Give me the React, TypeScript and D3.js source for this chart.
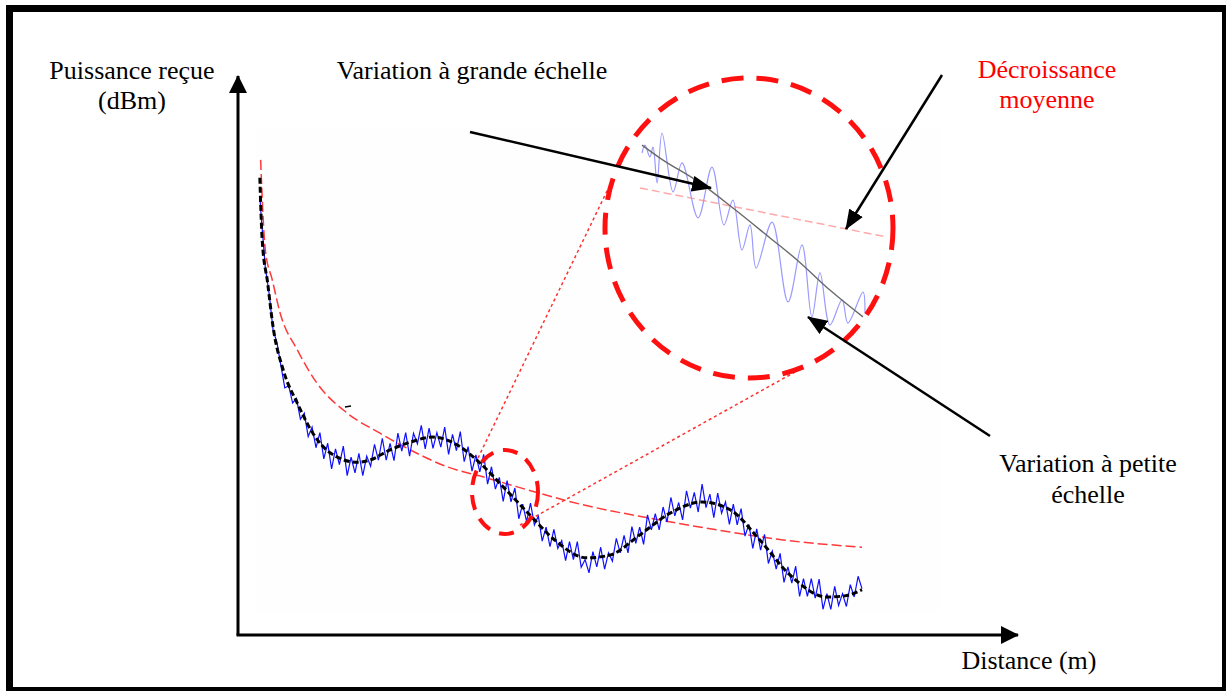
import React from 'react';
import * as d3 from 'd3';

const W = 1226;
const H = 691;

// Large-scale variation (black dashed) — distance units / power units
const blackX = [2.8, 3.1, 3.8, 4.5, 5.8, 7.6, 9.6, 11.8, 15.3, 16.9, 19.5, 22.1, 25.0, 28.1, 31.0, 34.0, 37.4, 40.6, 44.7, 47.7, 51.5, 55.4, 59.5, 63.1, 66.9, 70.8, 75.5, 77.8, 80.0];
const blackY = [81.8, 70.7, 63.0, 55.1, 47.4, 41.5, 36.1, 32.6, 30.9, 31.3, 33.1, 34.5, 35.4, 34.0, 30.8, 26.5, 21.5, 17.0, 13.8, 14.3, 17.9, 21.8, 23.8, 22.4, 17.0, 10.7, 6.8, 7.0, 8.1];

// Mean decay (red dashed)
const redX = [2.9, 3.5, 4.4, 5.4, 7.6, 10.1, 14.0, 18.2, 22.1, 26.8, 31.4, 35.8, 44.2, 52.8, 61.4, 69.9, 80.0];
const redY = [85.0, 68.9, 63.5, 57.6, 51.0, 45.1, 39.7, 36.1, 33.1, 30.1, 28.3, 26.5, 23.3, 20.9, 18.8, 17.0, 15.7];

// Received power with small-scale variation (blue)
const blueHead = [2.8, 78.5];
const blueX0 = 3.0;
const blueStep = 0.5;
const blueY = [
  74.4, 65.8, 61.0, 54.5, 52.3, 48.2, 44.2, 44.6, 41.5, 42.3,
  38.6, 39.7, 35.5, 37.2, 33.5, 36.2, 31.5, 34.3, 29.7, 33.3,
  30.5, 33.8, 28.5, 31.8, 29.0, 32.5, 28.5, 32.0, 30.2, 34.1,
  31.3, 35.2, 31.3, 34.3, 31.2, 36.1, 32.9, 36.2, 32.0, 36.1,
  34.2, 37.5, 33.3, 37.0, 33.4, 36.2, 33.6, 37.2, 32.3, 35.9,
  33.0, 36.4, 31.0, 33.7, 29.3, 32.2, 29.2, 32.3, 27.0, 30.1,
  26.1, 28.2, 23.9, 27.6, 23.8, 26.3, 20.8, 23.4, 20.3, 23.6,
  19.7, 21.3, 16.8, 19.3, 15.8, 18.9, 15.5, 16.9, 13.3, 16.7,
  13.5, 16.7, 12.1, 13.5, 11.1, 14.9, 12.2, 15.7, 11.8, 14.7,
  13.2, 17.3, 14.7, 17.8, 14.7, 19.4, 16.4, 19.3, 16.2, 21.5,
  18.8, 21.7, 18.8, 22.9, 20.2, 24.6, 21.3, 23.7, 20.6, 25.8,
  22.7, 25.5, 22.0, 27.0, 22.8, 25.2, 21.0, 25.4, 21.8, 23.8,
  19.8, 23.4, 19.7, 22.6, 17.7, 19.8, 15.5, 19.0, 15.2, 18.0,
  12.8, 15.0, 11.8, 14.6, 9.4, 12.2, 9.3, 12.3, 6.9, 10.1,
  6.9, 10.1, 6.6, 10.0, 4.6, 7.4, 4.6, 8.7, 5.3, 7.4,
  5.1, 9.0, 6.8, 10.5, 8.3,
];

// Zoomed inset (own local units 0..100)
const insetBlueX = [0.9, 2.2, 4.4, 5.8, 7.6, 9.8, 14.7, 18.7, 25.8, 32.0, 37.3, 41.3, 45.3, 48.9, 51.6, 58.7, 65.8, 72.0, 76.4, 80.0, 84.4, 89.8, 92.4, 99.1, 100];
const insetBlueY = [85.0, 88.6, 83.2, 87.7, 71.4, 94.1, 67.3, 80.5, 55.5, 78.6, 52.3, 63.6, 40.9, 52.3, 32.7, 53.6, 17.3, 43.2, 10.5, 30.5, 6.8, 18.2, 7.7, 21.8, 12.3];
const insetGreyX = [0.9, 8.9, 26.7, 41.3, 57.8, 69.8, 84.4, 99.1];
const insetGreyY = [88.6, 82.7, 71.4, 60.0, 46.4, 36.4, 22.7, 10.5];
const insetPinkX = [0, 109.8];
const insetPinkY = [69.1, 46.8];

const FONT = '"Liberation Serif", Tinos, "Noto Serif", "DejaVu Serif", FreeSerif, Times, serif';

export default function App() {
  const x = d3.scaleLinear().domain([0, 100]).range([238, 1018]);
  const y = d3.scaleLinear().domain([0, 100]).range([635, 76]);
  const ix = d3.scaleLinear().domain([0, 100]).range([640, 865]);
  const iy = d3.scaleLinear().domain([0, 100]).range([340, 120]);

  const lineMain = d3.line<[number, number]>().x(d => x(d[0])).y(d => y(d[1]));
  const lineInset = d3.line<[number, number]>().x(d => ix(d[0])).y(d => iy(d[1]));

  const blackPts = blackX.map((v, i) => [v, blackY[i]] as [number, number]);
  const redPts = redX.map((v, i) => [v, redY[i]] as [number, number]);
  const bluePts: [number, number][] = [[blueHead[0], blueHead[1]], ...blueY.map((v, i) => [blueX0 + i * blueStep, v] as [number, number])];

  const blackPath = lineMain.curve(d3.curveMonotoneX)(blackPts) || '';
  const redPath = lineMain.curve(d3.curveMonotoneX)(redPts) || '';
  const bluePath = lineMain.curve(d3.curveLinear)(bluePts) || '';

  const iBlue = lineInset.curve(d3.curveCatmullRom)(insetBlueX.map((v, i) => [v, insetBlueY[i]] as [number, number])) || '';
  const iGrey = lineInset.curve(d3.curveMonotoneX)(insetGreyX.map((v, i) => [v, insetGreyY[i]] as [number, number])) || '';
  const iPink = lineInset.curve(d3.curveLinear)(insetPinkX.map((v, i) => [v, insetPinkY[i]] as [number, number])) || '';

  const x0 = x.range()[0];
  const x1 = x.range()[1];
  const y0 = y.range()[0];
  const y1 = y.range()[1];

  const textStyle: React.CSSProperties = { fontFamily: FONT, fontSize: '26px' };

  return (
    <svg width={W} height={H} style={{ position: 'fixed', left: 0, top: 0, background: '#fff' }}>
      <defs>
        <marker id="axisHead" markerUnits="userSpaceOnUse" markerWidth="18" markerHeight="18" viewBox="0 0 18 18" refX="17" refY="9" orient="auto">
          <path d="M0,0 L18,9 L0,18 Z" fill="#000" />
        </marker>
        <marker id="arrHead" markerUnits="userSpaceOnUse" markerWidth="20" markerHeight="16" viewBox="0 0 20 16" refX="19" refY="8" orient="auto">
          <path d="M0,0 L20,8 L0,16 Z" fill="#000" />
        </marker>
      </defs>
      <rect x={0} y={0} width={W} height={H} fill="#fff" />
      <rect x={9.5} y={8.5} width={1216} height={682} fill="none" stroke="#000" strokeWidth={7} />
      <rect x={255} y={128} width={685} height={484} fill="#fefefe" />

      {/* axes */}
      <line x1={x0} y1={y0} x2={x0} y2={y1} stroke="#000" strokeWidth={3} markerEnd="url(#axisHead)" />
      <line x1={x0 - 1.5} y1={y0} x2={x1} y2={y0} stroke="#000" strokeWidth={3} markerEnd="url(#axisHead)" />

      {/* curves */}
      <path d={redPath} fill="none" stroke="#ff3a3a" strokeWidth={1.5} strokeDasharray="10 4" />
      <path d={bluePath} fill="none" stroke="#1010ff" strokeWidth={1.2} />
      <path d={blackPath} fill="none" stroke="#000" strokeWidth={3} strokeDasharray="6 3" />
      <line x1={345} y1={407} x2={351} y2={406} stroke="#000" strokeWidth={1.5} />

      {/* zoom connection */}
      <line x1={478} y1={458} x2={608} y2={189} stroke="#ff3030" strokeWidth={1.5} strokeDasharray="3 3" />
      <line x1={520} y1={525} x2={795} y2={372} stroke="#ff3030" strokeWidth={1.5} strokeDasharray="3 3" />
      <ellipse cx={505} cy={492} rx={33} ry={42} fill="none" stroke="#ff1010" strokeWidth={4} strokeDasharray="15 10" />

      {/* inset */}
      <ellipse cx={749} cy={228} rx={144} ry={150} fill="#fff" fillOpacity={0.6} stroke="none" />
      <path d={iPink} fill="none" stroke="#ffaaaa" strokeWidth={1.5} strokeDasharray="8 4" />
      <path d={iBlue} fill="none" stroke="#9a9aff" strokeWidth={1.2} />
      <path d={iGrey} fill="none" stroke="#6a6a6a" strokeWidth={1.4} />
      <ellipse cx={749} cy={228} rx={144} ry={150} fill="none" stroke="#ff1010" strokeWidth={5} strokeDasharray="22 13" />

      {/* annotation arrows */}
      <line x1={470} y1={132} x2={711} y2={188} stroke="#000" strokeWidth={2.5} markerEnd="url(#arrHead)" />
      <line x1={942} y1={75} x2={846} y2={229} stroke="#000" strokeWidth={2.5} markerEnd="url(#arrHead)" />
      <line x1={990} y1={436} x2={808} y2={317} stroke="#000" strokeWidth={2.5} markerEnd="url(#arrHead)" />

      {/* texts */}
      <g style={textStyle} fill="#000">
        <text x={132} y={79} textAnchor="middle">Puissance reçue</text>
        <text x={132} y={109} textAnchor="middle">(dBm)</text>
        <text x={472} y={79} textAnchor="middle">Variation à grande échelle</text>
        <text x={1047} y={78} textAnchor="middle" fill="#ff0000">Décroissance</text>
        <text x={1047} y={108} textAnchor="middle" fill="#ff0000">moyenne</text>
        <text x={1088} y={472} textAnchor="middle">Variation à petite</text>
        <text x={1088} y={503} textAnchor="middle">échelle</text>
        <text x={1029} y={669} textAnchor="middle">Distance (m)</text>
      </g>
    </svg>
  );
}
